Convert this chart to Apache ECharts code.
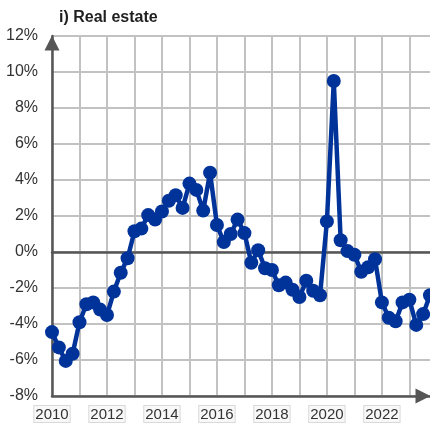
<!DOCTYPE html>
<html>
<head>
<meta charset="utf-8">
<script src="https://cdn.jsdelivr.net/npm/echarts@6/dist/echarts.min.js"></script>
<style>
  html, body { margin: 0; padding: 0; background: #fff; }
  #chart { width: 430px; height: 426px; }
</style>
</head>
<body>
<div id="chart"></div>
<script>
// Quarterly periods, 2010 Q1 to 2023 Q4
const quarters = [];
for (let y = 2010; y <= 2023; y++) {
  for (let q = 1; q <= 4; q++) quarters.push(y + ' Q' + q);
}

// Real estate, % change
const realEstate = [
  -4.45, -5.3, -6.05, -5.65,
  -3.9, -2.9, -2.8, -3.2,
  -3.5, -2.2, -1.15, -0.35,
  1.15, 1.3, 2.05, 1.8,
  2.25, 2.85, 3.15, 2.45,
  3.8, 3.45, 2.3, 4.4,
  1.5, 0.55, 1.0, 1.8,
  1.05, -0.6, 0.1, -0.9,
  -1.0, -1.85, -1.7, -2.1,
  -2.5, -1.6, -2.15, -2.4,
  1.7, 9.5, 0.65, 0.05,
  -0.15, -1.1, -0.85, -0.4,
  -2.8, -3.65, -3.85, -2.8,
  -2.65, -4.05, -3.45, -2.4
];

const yTicks = { min: -8, max: 12, step: 2 };

const axisColor = '#565656';
const gridColor = '#c2c2c2';
const lineColor = '#00339a';
const font = 'Liberation Sans, Arial, sans-serif';

const chart = echarts.init(document.getElementById('chart'), null, { renderer: 'canvas' });

chart.setOption({
  animation: false,
  title: {
    text: 'i) Real estate',
    left: 54,
    top: 5,
    textStyle: { fontFamily: font, fontSize: 16, fontWeight: 'bold', color: '#1f1f1f' }
  },
  grid: { left: 52, right: 0, top: 36, bottom: 30, containLabel: false },
  xAxis: [
    {
      type: 'category',
      data: quarters,
      boundaryGap: false,
      axisLine: {
        onZero: false,
        lineStyle: { color: axisColor, width: 2.5 },
        symbol: ['none', 'triangle'],
        symbolSize: [15, 15],
        symbolOffset: [0, -7]
      },
      axisTick: { show: false },
      axisLabel: {
        interval: 7,
        margin: 10,
        formatter: function (v) { return '{b|' + v.slice(0, 4) + '}'; },
        rich: {
          b: {
            fontFamily: font,
            fontSize: 15,
            color: '#333',
            borderColor: '#d9d9d9',
            borderWidth: 1,
            backgroundColor: '#f8f8f8',
            padding: [1, 1, 0, 1]
          }
        }
      },
      splitLine: { show: true, interval: 3, lineStyle: { color: gridColor, width: 2 } }
    },
    {
      // zero line
      type: 'category',
      data: quarters,
      boundaryGap: false,
      axisLine: { onZero: true, lineStyle: { color: axisColor, width: 2.5 } },
      axisTick: { show: false },
      axisLabel: { show: false },
      splitLine: { show: false }
    }
  ],
  yAxis: {
    type: 'value',
    min: yTicks.min,
    max: yTicks.max,
    interval: yTicks.step,
    axisLine: {
      show: true,
      lineStyle: { color: axisColor, width: 2.5 },
      symbol: ['none', 'triangle'],
      symbolSize: [15, 15],
      symbolOffset: [0, -7]
    },
    axisTick: { show: false },
    axisLabel: {
      formatter: '{value}%',
      margin: 14,
      fontFamily: font,
      fontSize: 16,
      color: '#333'
    },
    splitLine: { show: true, lineStyle: { color: gridColor, width: 2 } }
  },
  series: [
    {
      type: 'line',
      xAxisIndex: 0,
      data: realEstate,
      symbol: 'circle',
      symbolSize: 14,
      showAllSymbol: true,
      lineStyle: { color: lineColor, width: 4.5 },
      itemStyle: { color: lineColor },
      z: 5
    }
  ]
});
</script>
</body>
</html>
